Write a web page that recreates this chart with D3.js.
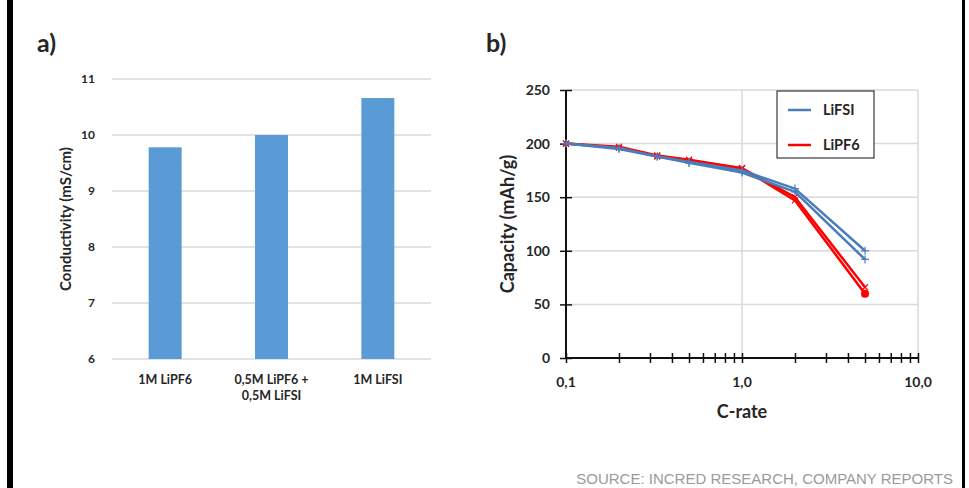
<!DOCTYPE html>
<html>
<head>
<meta charset="utf-8">
<script src="https://cdn.jsdelivr.net/npm/d3@7"></script>
<style>
  body { margin: 0; background: #fff; }
  svg { display: block; }
  text { font-family: Lato, "Open Sans", sans-serif; font-weight: bold; fill: #262626; }
</style>
</head>
<body>
<svg id="chart" width="969" height="488"></svg>
<script>
// panel a data
const categories = ["1M LiPF6", "0,5M LiPF6 +|0,5M LiFSI", "1M LiFSI"];
const conductivity = [9.78, 10.0, 10.66];
const condTicks = [6, 7, 8, 9, 10, 11];

// panel b data
const cRates = [0.1, 0.2, 0.33, 0.5, 1, 2, 5];
const lifsiA = [200, 196, 188, 183, 175, 158, 100];
const lifsiB = [200, 195, 188, 182, 173, 155, 92];
const lipf6A = [200, 197, 189, 185, 177, 150, 66];
const lipf6B = [200, 196, 188, 184, 177, 147, 60];
const capTicks = [0, 50, 100, 150, 200, 250];
const rateTicks = [0.1, 1, 10];
const rateLabels = ["0,1", "1,0", "10,0"];
const legendNames = ["LiFSI", "LiPF6"];

const blue = "#4a7ebb", red = "#ff0000", grid = "#d9d9d9";
const svg = d3.select("#chart");

// black side bars
svg.append("rect").attr("x", 7).attr("y", 0).attr("width", 6).attr("height", 488).attr("fill", "#000");
svg.append("rect").attr("x", 962).attr("y", 0).attr("width", 3).attr("height", 488).attr("fill", "#000");

// ---------- panel a ----------
svg.append("text").attr("x", 37).attr("y", 52).attr("font-size", 25).text("a)");

let xa = d3.scaleBand().domain(categories).range([112, 431]).paddingInner(0.69).paddingOuter(0.345);
let ya = d3.scaleLinear().domain([6, 11]).range([359, 79]);

svg.append("g").selectAll("line").data(condTicks).join("line")
  .attr("x1", 112).attr("x2", 431)
  .attr("y1", d => ya(d)).attr("y2", d => ya(d))
  .attr("stroke", grid).attr("stroke-width", 1.5);

svg.append("g").selectAll("text").data(condTicks).join("text")
  .attr("x", 95).attr("y", d => ya(d) + 4)
  .attr("text-anchor", "end").attr("font-size", 12).text(d => d);

svg.append("g").selectAll("rect").data(conductivity).join("rect")
  .attr("x", (d, i) => xa(categories[i]))
  .attr("width", xa.bandwidth())
  .attr("y", d => ya(d))
  .attr("height", d => ya(6) - ya(d))
  .attr("fill", "#5b9bd5");

categories.forEach(c => {
  let t = svg.append("text").attr("x", xa(c) + xa.bandwidth() / 2).attr("y", 384)
    .attr("text-anchor", "middle").attr("font-size", 12.5);
  c.split("|").forEach((line, j) => {
    t.append("tspan").attr("x", xa(c) + xa.bandwidth() / 2).attr("dy", j ? 16 : 0).text(line);
  });
});

svg.append("text").attr("transform", "translate(71,219) rotate(-90)")
  .attr("text-anchor", "middle").attr("font-size", 15).text("Conductivity (mS/cm)");

// ---------- panel b ----------
svg.append("text").attr("x", 486).attr("y", 52).attr("font-size", 25).text("b)");

let xb = d3.scaleLog().domain([0.1, 10]).range([566, 918]);
let yb = d3.scaleLinear().domain([0, 250]).range([358, 90]);

// gridlines
svg.append("g").selectAll("line").data(capTicks.slice(1)).join("line")
  .attr("x1", 566).attr("x2", 918)
  .attr("y1", d => yb(d)).attr("y2", d => yb(d))
  .attr("stroke", grid).attr("stroke-width", 1.5);
svg.append("g").selectAll("line").data(rateTicks.slice(1)).join("line")
  .attr("x1", d => xb(d)).attr("x2", d => xb(d))
  .attr("y1", 90).attr("y2", 358)
  .attr("stroke", grid).attr("stroke-width", 1.5);

// y axis
let yAxis = svg.append("g").attr("transform", "translate(566,0)")
  .call(d3.axisLeft(yb).tickValues(capTicks).tickSize(6).tickPadding(10));
yAxis.select(".domain").attr("d", `M0,${yb(250)}V${yb(0)}`).attr("stroke", "#111").attr("stroke-width", 2);
yAxis.selectAll(".tick line").attr("x2", -6).attr("x1", 6).attr("stroke", "#111").attr("stroke-width", 1.5);
yAxis.selectAll(".tick text").attr("font-size", 14).attr("font-family", "Lato, sans-serif").attr("font-weight", "bold").attr("fill", "#262626");

// x axis with minor ticks
let minor = [];
[0.1, 1].forEach(b => { for (let k = 2; k <= 9; k++) minor.push(+(b * k).toFixed(2)); });
let xAxis = svg.append("g").attr("transform", "translate(0,358)")
  .call(d3.axisBottom(xb).tickValues(rateTicks.concat(minor)).tickSize(5).tickFormat(""));
xAxis.select(".domain").attr("d", "M566,0H918").attr("stroke", "#111").attr("stroke-width", 2);
xAxis.selectAll(".tick line").attr("y1", -5).attr("y2", 5).attr("stroke", "#111").attr("stroke-width", 1.5);

svg.append("g").selectAll("text").data(rateTicks).join("text")
  .attr("x", d => xb(d)).attr("y", 387).attr("text-anchor", "middle")
  .attr("font-size", 14).text((d, i) => rateLabels[i]);

svg.append("text").attr("x", 742).attr("y", 418).attr("text-anchor", "middle")
  .attr("font-size", 18).text("C-rate");
svg.append("text").attr("transform", "translate(514,224) rotate(-90)")
  .attr("text-anchor", "middle").attr("font-size", 18).text("Capacity (mAh/g)");

// series
let line = d3.line().x((d, i) => xb(cRates[i])).y(d => yb(d));
const series = [
  { v: lipf6B, c: red, m: "x" },
  { v: lipf6A, c: red, m: "x" },
  { v: lifsiB, c: blue, m: "+" },
  { v: lifsiA, c: blue, m: "+" }
];
series.forEach(s => {
  svg.append("path").datum(s.v).attr("d", line)
    .attr("fill", "none").attr("stroke", s.c).attr("stroke-width", 2.5).attr("stroke-linejoin", "round");
  svg.append("g").selectAll("path").data(s.v).join("path")
    .attr("transform", (d, i) => `translate(${xb(cRates[i])},${yb(d)})`)
    .attr("d", s.m === "+" ? "M-4,0H4M0,-4V4" : "M-3,-3L3,3M-3,3L3,-3")
    .attr("stroke", s.c).attr("stroke-width", 1.2);
});
svg.append("circle").attr("cx", xb(cRates[6])).attr("cy", yb(lipf6B[6])).attr("r", 4).attr("fill", red);

// legend
svg.append("rect").attr("x", 777).attr("y", 91).attr("width", 97).attr("height", 67)
  .attr("fill", "#fff").attr("stroke", "#111").attr("stroke-width", 1);
legendNames.forEach((n, i) => {
  let y = 110 + i * 35;
  svg.append("line").attr("x1", 788).attr("x2", 811).attr("y1", y).attr("y2", y)
    .attr("stroke", i ? red : blue).attr("stroke-width", 2.5);
  svg.append("text").attr("x", 823).attr("y", y + 5).attr("font-size", 14.5).text(n);
});

// source
svg.append("text").attr("x", 953).attr("y", 484).attr("text-anchor", "end")
  .style("font-family", "'Liberation Sans', Arial, sans-serif").style("font-weight", "normal")
  .style("fill", "#9a9a9a").attr("font-size", 15).text("SOURCE: INCRED RESEARCH, COMPANY REPORTS");
</script>
</body>
</html>
